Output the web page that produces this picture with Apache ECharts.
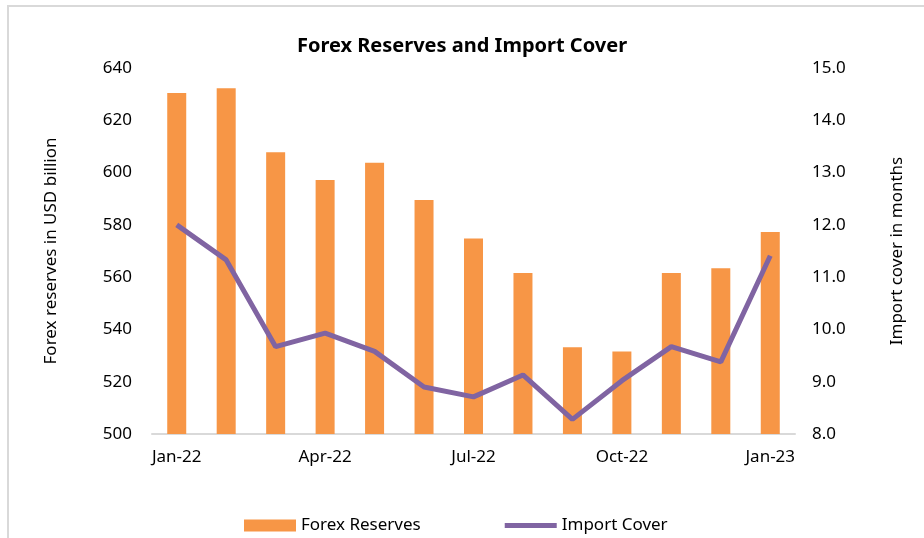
<!DOCTYPE html>
<html>
<head>
<meta charset="utf-8">
<script src="https://cdn.jsdelivr.net/npm/echarts@6/dist/echarts.min.js"></script>
<style>
  html, body { margin: 0; padding: 0; background: #fff; }
  #frame { position: absolute; left: 7px; top: 5px; width: 917px; height: 533px; border-left: 2px solid #d9d9d9; border-top: 2px solid #d9d9d9; }
  #chart { position: absolute; left: 0; top: 0; width: 924px; height: 538px; }
</style>
</head>
<body>
<div id="frame"></div>
<div id="chart"></div>
<script>
// months shown on the x axis
var months = ['Jan-22', 'Feb-22', 'Mar-22', 'Apr-22', 'May-22', 'Jun-22', 'Jul-22',
  'Aug-22', 'Sep-22', 'Oct-22', 'Nov-22', 'Dec-22', 'Jan-23']
// forex reserves, USD billion
var reserves = [630.4, 632.3, 607.8, 597.2, 603.8, 589.5, 574.8, 561.6, 533.2, 531.6, 561.6, 563.4, 577.3]
// import cover, months
var importCover = [12.0, 11.33, 9.67, 9.93, 9.58, 8.9, 8.71, 9.13, 8.28, 9.02, 9.67, 9.38, 11.41]

var font = 'Noto Sans'
var chart = echarts.init(document.getElementById('chart'))
chart.setOption({
  animation: false,
  title: {
    text: 'Forex Reserves and Import Cover',
    left: 'center',
    top: 31,
    textStyle: { fontFamily: font, fontSize: 20, fontWeight: 'bold', color: '#000' }
  },
  legend: {
    left: 239,
    top: 512,
    itemWidth: 52,
    itemHeight: 12,
    itemGap: 84,
    textStyle: { fontFamily: font, fontSize: 17, color: '#000' },
    data: [
      { name: 'Forex Reserves', icon: 'rect' },
      { name: 'Import Cover', icon: 'path://M0,0H52V5H0Z' }
    ]
  },
  grid: { left: 152, right: 129, top: 68, bottom: 104 },
  xAxis: {
    type: 'category',
    data: months,
    axisLine: { lineStyle: { color: '#d9d9d9', width: 2 } },
    axisTick: { interval: 2, length: 6, lineStyle: { color: '#d9d9d9', width: 2 } },
    axisLabel: { interval: 2, margin: 15, fontFamily: font, fontSize: 17, color: '#000' }
  },
  yAxis: [
    {
      type: 'value',
      min: 500,
      max: 640,
      interval: 20,
      name: 'Forex reserves in USD billion',
      nameLocation: 'middle',
      nameGap: 92,
      nameTextStyle: { fontFamily: font, fontSize: 17, color: '#000' },
      splitLine: { show: false },
      axisLine: { show: false },
      axisTick: { show: false },
      axisLabel: { margin: 20, fontFamily: font, fontSize: 17, color: '#000' }
    },
    {
      type: 'value',
      min: 8,
      max: 15,
      interval: 1,
      name: 'Import cover in months',
      nameLocation: 'middle',
      nameGap: 94,
      nameRotate: 90,
      nameTextStyle: { fontFamily: font, fontSize: 17, color: '#000' },
      splitLine: { show: false },
      axisLine: { show: false },
      axisTick: { show: false },
      axisLabel: {
        margin: 17,
        fontFamily: font,
        fontSize: 17,
        color: '#000',
        formatter: function (v) { return v.toFixed(1) }
      }
    }
  ],
  series: [
    {
      name: 'Forex Reserves',
      type: 'bar',
      data: reserves,
      barWidth: 19,
      itemStyle: { color: '#F79646' }
    },
    {
      name: 'Import Cover',
      type: 'line',
      yAxisIndex: 1,
      data: importCover,
      symbol: 'none',
      lineStyle: { color: '#8064A2', width: 5 },
      itemStyle: { color: '#8064A2' }
    }
  ]
})
</script>
</body>
</html>
